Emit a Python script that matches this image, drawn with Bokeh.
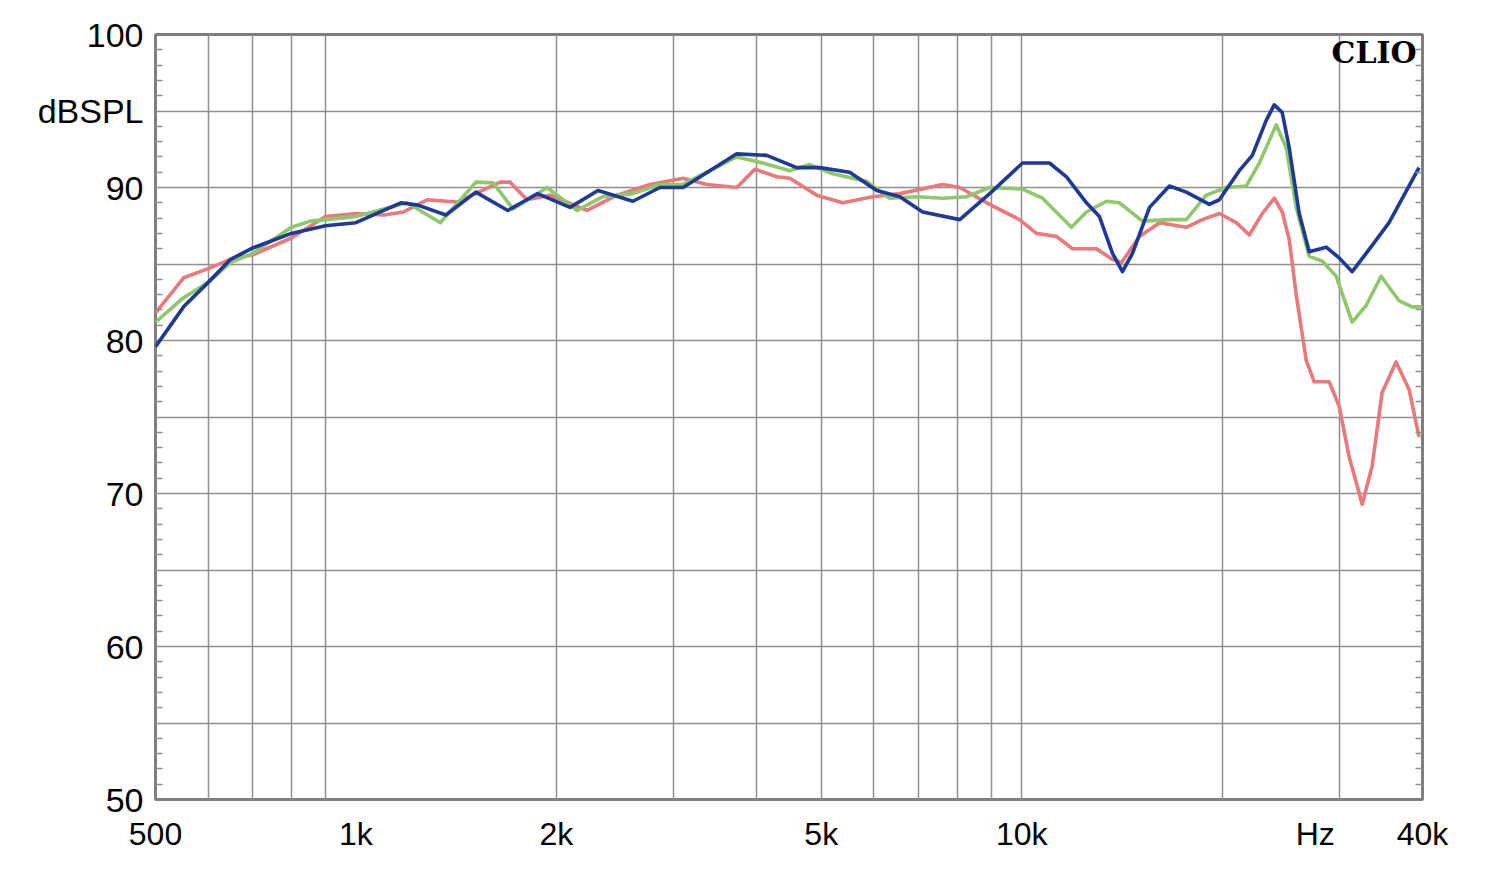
from bokeh.plotting import figure
from bokeh.models import Range1d, FixedTicker, LinearAxis, Label
from bokeh.embed import file_html
from bokeh.resources import INLINE

# ---- data (frequency in Hz, level in dB SPL) ----
blue_f = [500, 551, 600, 648, 700, 800, 900, 1000, 1101, 1168, 1239, 1365, 1514, 1691, 1875,
          2097, 2310, 2607, 2862, 3100, 3401, 3733, 4141, 4593, 4974, 5516, 6057, 6561, 7102,
          8072, 8952, 10032, 11010, 11677, 12512, 13086, 13690, 14170, 14670, 15559, 16670,
          17675, 19137, 19810, 21228, 22204, 23305, 23955, 24625, 25226, 26114, 27033, 28668,
          29984, 31363, 32918, 35634, 39523]
blue_db = [79.6, 82.2, 83.8, 85.3, 86.05, 87.0, 87.5, 87.7, 88.5, 89.0, 88.85, 88.2, 89.7, 88.5, 89.6,
           88.7, 89.8, 89.1, 90.0, 90.0, 91.1, 92.2, 92.1, 91.3, 91.3, 91.0, 89.8, 89.4, 88.4,
           87.9, 89.6, 91.6, 91.6, 90.7, 89.0, 88.1, 85.7, 84.5, 85.7, 88.7, 90.1,
           89.7, 88.9, 89.2, 91.1, 92.1, 94.4, 95.4, 94.9, 92.6, 88.3, 85.8, 86.1,
           85.4, 84.5, 85.7, 87.7, 91.3]

green_f = [500, 551, 600, 648, 700, 800, 854, 900, 1000, 1101, 1194, 1339, 1514, 1608, 1722, 1937,
           2149, 2350, 2607, 2862, 3100, 3401, 3733, 4084, 4484, 4805, 5200, 5852, 6334, 6955,
           7609, 8268, 8952, 10032, 10747, 11880, 12512, 13408, 14025, 15186, 16670, 17675,
           18939, 20294, 21748, 22748, 24121, 24968, 25843, 27033, 28274, 29676, 31363, 32918,
           34664, 36886, 38578, 40000]
green_db = [81.2, 82.8, 83.8, 85.1, 85.7, 87.4, 87.8, 87.9, 88.1, 88.6, 89.0, 87.7, 90.35, 90.3, 88.6, 90.0,
            88.5, 89.4, 89.6, 90.2, 90.2, 91.1, 92.0, 91.6, 91.1, 91.5, 90.9, 90.4, 89.3, 89.4,
            89.3, 89.4, 90.0, 89.9, 89.3, 87.4, 88.4, 89.1, 89.0, 87.8, 87.9, 87.9,
            89.5, 90.0, 90.1, 91.6, 94.1, 92.6, 88.7, 85.5, 85.2, 84.2, 81.2, 82.3,
            84.2, 82.6, 82.2, 82.2]

red_f = [500, 551, 600, 648, 700, 800, 900, 1000, 1101, 1178, 1279, 1419, 1647, 1705, 1807, 1957,
         2224, 2467, 2765, 3100, 3367, 3733, 3973, 4287, 4484, 4922, 5387, 5974, 6561, 7609,
         8072, 8952, 9925, 10527, 11282, 11921, 12951, 13690, 14122, 15029, 16105, 17675,
         18679, 19810, 21008, 21976, 22985, 23955, 24625, 25226, 25843, 26753, 27505, 28968,
         29984, 31040, 32467, 33607, 34783, 36503, 38182, 39523]
red_db = [81.8, 84.1, 84.7, 85.3, 85.6, 86.7, 88.1, 88.3, 88.2, 88.4, 89.2, 89.05, 90.35, 90.35, 89.2, 89.5,
          88.5, 89.5, 90.2, 90.6, 90.2, 90.0, 91.2, 90.7, 90.6, 89.5, 89.0, 89.4, 89.6, 90.2,
          90.0, 88.9, 87.9, 87.0, 86.8, 86.0, 86.0, 85.3, 85.1, 86.8, 87.7, 87.4,
          87.9, 88.3, 87.7, 86.9, 88.3, 89.3, 88.4, 86.6, 83.0, 78.7, 77.3, 77.3,
          75.7, 72.4, 69.3, 71.8, 76.6, 78.6, 76.8, 73.7]

x_ticks = [500, 1000, 2000, 5000, 10000, 27600, 40000]
x_tick_labels = ["500", "1k", "2k", "5k", "10k", "Hz", "40k"]
x_grid = [600, 700, 800, 900, 2000, 3000, 4000, 5000, 6000, 7000, 8000, 9000, 10000, 20000, 30000]
y_ticks = [50, 60, 70, 80, 90, 95, 100]
y_tick_labels = ["50", "60", "70", "80", "90", "dBSPL", "100"]
y_grid = [55, 60, 65, 70, 75, 80, 85, 90, 95]

FONT = "Liberation Sans"
GRID = "#8f8f8f"

p = figure(width=1484, height=854, x_axis_type="log", output_backend="svg",
           toolbar_location=None, x_range=Range1d(500, 40000), y_range=Range1d(50, 100),
           min_border_left=155, min_border_top=34, min_border_right=62, min_border_bottom=54)
p.background_fill_color = "white"
p.border_fill_color = "white"
p.outline_line_color = "#7f7f7f"
p.outline_line_width = 3

# grids
p.xgrid.ticker = FixedTicker(ticks=x_grid)
p.ygrid.ticker = FixedTicker(ticks=y_grid)
for g in (p.xgrid[0], p.ygrid[0]):
    g.grid_line_color = GRID
    g.grid_line_width = 1.5

# x axis
xa = p.xaxis[0]
xa.ticker = FixedTicker(ticks=x_ticks)
xa.major_label_overrides = {t: l for t, l in zip(x_ticks, x_tick_labels)}
xa.axis_line_color = None
xa.major_tick_line_color = None
xa.minor_tick_line_color = None
xa.major_tick_in = 0
xa.major_tick_out = 0
xa.minor_tick_in = 0
xa.minor_tick_out = 0
xa.major_label_text_font = FONT
xa.major_label_text_font_size = "32px"
xa.major_label_text_color = "black"
xa.major_label_standoff = 16

# y axis (left)
ya = p.yaxis[0]
minor = [v for v in range(50, 101) if v % 5 != 0]
ya.ticker = FixedTicker(ticks=y_ticks, minor_ticks=minor)
ya.major_label_overrides = {t: l for t, l in zip(y_ticks, y_tick_labels)}
ya.axis_line_color = None
ya.major_tick_line_color = None
ya.major_tick_in = 0
ya.major_tick_out = 0
ya.minor_tick_in = 7
ya.minor_tick_out = 0
ya.minor_tick_line_color = GRID
ya.minor_tick_line_width = 1.5
ya.major_label_text_font = FONT
ya.major_label_text_font_size = "34px"
ya.major_label_text_color = "black"
ya.major_label_standoff = 12

# right axis with inner minor ticks only
ra = LinearAxis(ticker=FixedTicker(ticks=[], minor_ticks=minor))
ra.axis_line_color = None
ra.major_tick_line_color = None
ra.major_tick_in = 0
ra.major_tick_out = 0
ra.minor_tick_in = 7
ra.minor_tick_out = 0
ra.minor_tick_line_color = GRID
ra.minor_tick_line_width = 1.5
ra.major_label_text_font_size = "0px"
p.add_layout(ra, "right")

# curves
p.line(red_f, red_db, line_color="#ea787c", line_width=3.6, line_join="round")
p.line(green_f, green_db, line_color="#8ec86a", line_width=3.6, line_join="round")
p.line(blue_f, blue_db, line_color="#1e3a94", line_width=3.6, line_join="round")

p.add_layout(Label(x=39200, y=98.8, text="CLIO", text_font="DejaVu Serif",
                   text_font_style="bold", text_font_size="30px", text_align="right",
                   text_baseline="middle", text_color="black"))

open("out.html", "w").write(file_html(p, INLINE))
